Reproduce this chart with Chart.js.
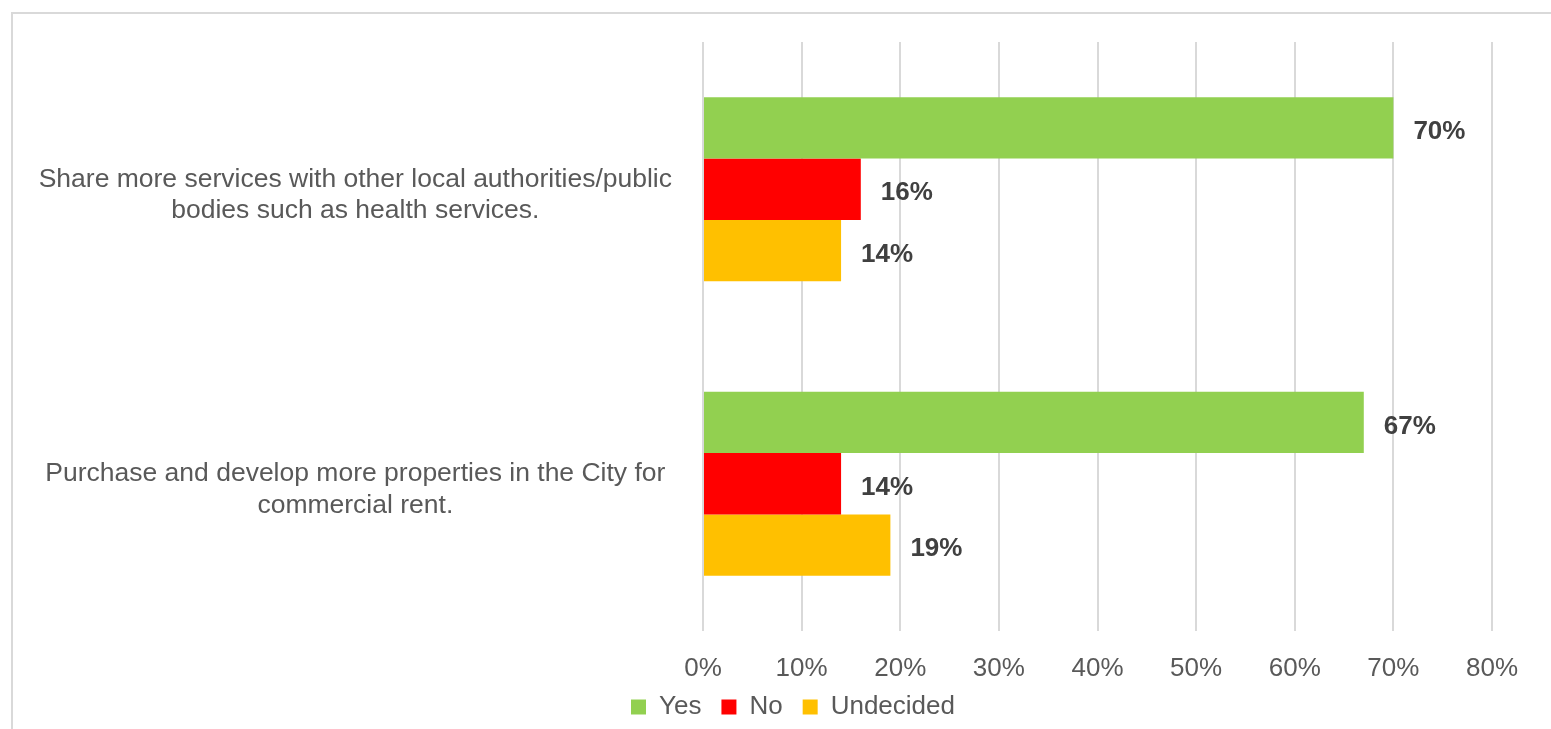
<!DOCTYPE html>
<html>
<head>
<meta charset="utf-8">
<script src="https://cdn.jsdelivr.net/npm/chart.js@4/dist/chart.umd.min.js"></script>
<style>
  html, body { margin: 0; padding: 0; background: #fff; overflow: hidden; }
  #frame {
    position: absolute; left: 11px; top: 12px;
    width: 1560px; height: 730px;
    border: 2px solid #d9d9d9;
  }
  #board { display: block; }
</style>
</head>
<body>
<div id="frame"><canvas id="board" width="1560" height="730"></canvas></div>
<script>
let canv = document.getElementById("board");

// categories, one array of lines per label
const categories = [
  ["Share more services with other local authorities/public", "bodies such as health services."],
  ["Purchase and develop more properties in the City for", "commercial rent."]
];
const seriesNames = ["Yes", "No", "Undecided"];
const yesValues = [70, 67];
const noValues = [16, 14];
const undecidedValues = [14, 19];
const seriesColors = ["#92D050", "#FF0000", "#FFC000"];
const xTicks = [0, 10, 20, 30, 40, 50, 60, 70, 80];

const fontName = "'Liberation Sans', Arial, sans-serif";

// value labels at the end of each bar
const barLabels = {
  id: "barLabels",
  afterDatasetsDraw(chart) {
    let ctx = chart.ctx;
    ctx.save();
    ctx.font = "bold 26px " + fontName;
    ctx.fillStyle = "#404040";
    ctx.textAlign = "left";
    ctx.textBaseline = "middle";
    chart.data.datasets.forEach((ds, i) => {
      let meta = chart.getDatasetMeta(i);
      meta.data.forEach((bar, j) => {
        ctx.fillText(ds.data[j] + "%", bar.x + 20, bar.y + 4);
      });
    });
    ctx.restore();
  }
};

// let tick labels run outside their own axis box
function noLabelClip(scale) {
  scale._computeLabelArea = () => null;
}

let chart = new Chart(canv, {
  type: "bar",
  data: {
    labels: categories,
    datasets: [
      { label: seriesNames[0], data: yesValues, backgroundColor: seriesColors[0] },
      { label: seriesNames[1], data: noValues, backgroundColor: seriesColors[1] },
      { label: seriesNames[2], data: undecidedValues, backgroundColor: seriesColors[2] }
    ]
  },
  options: {
    indexAxis: "y",
    responsive: false,
    animation: false,
    layout: { padding: { left: 81, right: 81, top: 28, bottom: 14 } },
    datasets: {
      bar: { categoryPercentage: 0.625, barPercentage: 1 }
    },
    scales: {
      x: {
        min: 0,
        max: 80,
        afterBuildTicks(scale) {
          scale.ticks = xTicks.map(v => ({ value: v }));
        },
        afterFit(scale) {
          scale.height = 43;
          noLabelClip(scale);
        },
        grid: { color: "#d9d9d9", lineWidth: 2, drawTicks: false },
        border: { display: false },
        ticks: {
          padding: 22,
          color: "#595959",
          font: { family: fontName, size: 26 },
          callback: v => v + "%"
        }
      },
      y: {
        grid: { display: false, drawTicks: false },
        border: { display: false },
        afterFit(scale) {
          scale.width = 609;
          scale.paddingTop = 0;
          scale.paddingBottom = 0;
          noLabelClip(scale);
        },
        ticks: {
          padding: 31,
          labelOffset: 6,
          crossAlign: "center",
          color: "#595959",
          font: { family: fontName, size: 26.5 }
        }
      }
    },
    plugins: {
      legend: {
        position: "bottom",
        labels: {
          boxWidth: 15,
          boxHeight: 15,
          padding: 20,
          color: "#595959",
          font: { family: fontName, size: 26 }
        }
      },
      tooltip: { enabled: false }
    }
  },
  plugins: [barLabels]
});
</script>
</body>
</html>
